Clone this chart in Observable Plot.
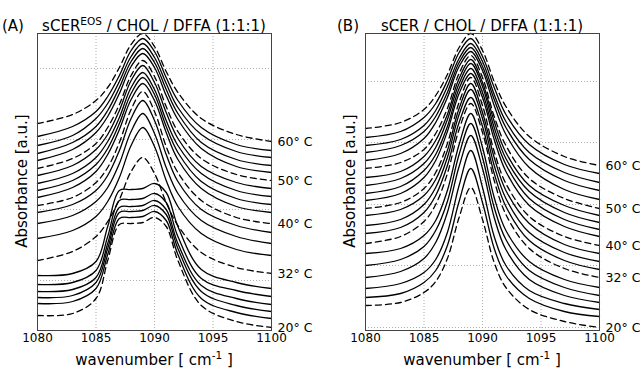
<!DOCTYPE html>
<html>
<head>
<meta charset="utf-8">
<script src="https://cdn.jsdelivr.net/npm/d3@7"></script>
<script src="https://cdn.jsdelivr.net/npm/@observablehq/plot@0.6"></script>
<style>
  html, body { margin: 0; padding: 0; background: #fff; }
  #row { display: flex; width: 640px; height: 369px; }
  svg { font-family: "DejaVu Sans", sans-serif; }
</style>
</head>
<body>
<div id="row"></div>
<script>
// wavenumber sample positions (cm^-1)
const wavenumbers = [1080, 1083, 1085, 1086, 1087, 1088, 1089, 1090, 1091, 1092, 1094, 1097, 1100];
const temperatures = [20, 22, 24, 26, 28, 30, 32, 34, 36, 38, 40, 42, 44, 46, 48, 50, 52, 54, 56, 58, 60];
const labelTemps = [20, 32, 40, 50, 60];
const xTicks = [1080, 1085, 1090, 1095, 1100];
const gridA = [50, 121, 191, 262];
const gridB = [3, 65, 126, 188, 249];

// Panel A: sCER^EOS / CHOL / DFFA (offset absorbance, a.u.)
const A20 = [15, 17, 32, 70, 106, 107, 108, 113, 104, 70, 25, 9, 3];
const A22 = [27, 29, 42, 76, 112, 113, 114, 119, 110, 76, 32, 18, 12];
const A24 = [33, 35, 48, 82, 118, 119, 120, 125, 116, 82, 39, 25, 19];
const A26 = [39, 41, 53, 87, 123, 124, 125, 130, 121, 87, 45, 32, 26];
const A28 = [46, 48, 60, 94, 130, 131, 132, 137, 128, 94, 52, 40, 34];
const A30 = [55, 57, 69, 104, 140, 141, 142, 147, 138, 104, 61, 48, 42];
const A32 = [70, 79, 94, 109, 131, 159, 173, 157, 128, 105, 78, 63, 57];
const A34 = [92, 100, 114, 129, 153, 185, 203, 184, 150, 124, 97, 81, 75];
const A36 = [107, 115, 129, 143, 167, 199, 217, 197, 163, 137, 110, 94, 87];
const A38 = [118, 126, 140, 155, 180, 212, 230, 210, 176, 149, 121, 105, 98];
const A40 = [125, 133, 148, 163, 188, 221, 239, 219, 184, 158, 130, 113, 107];
const A42 = [133, 143, 159, 176, 201, 231, 247, 230, 198, 171, 142, 124, 118];
const A44 = [140, 150, 166, 182, 207, 237, 253, 236, 204, 178, 149, 132, 126];
const A46 = [147, 157, 173, 189, 213, 243, 258, 241, 210, 185, 157, 140, 134];
const A48 = [155, 165, 181, 196, 220, 250, 265, 248, 218, 192, 164, 148, 142];
const A50 = [162, 172, 187, 203, 226, 255, 270, 254, 224, 199, 172, 156, 150];
const A52 = [170, 181, 198, 214, 237, 264, 277, 263, 235, 211, 182, 164, 158];
const A54 = [177, 188, 204, 220, 243, 269, 282, 268, 241, 217, 188, 171, 165];
const A56 = [185, 195, 212, 227, 249, 274, 287, 273, 247, 223, 196, 179, 173];
const A58 = [194, 204, 219, 234, 255, 280, 292, 279, 253, 230, 203, 186, 180];
const A60 = [207, 216, 230, 243, 263, 286, 297, 284, 259, 238, 212, 196, 189];

// Panel B: sCER / CHOL / DFFA (offset absorbance, a.u.)
const B20 = [25, 28, 38, 49, 72, 113, 143, 111, 68, 43, 21, 9, 3];
const B22 = [33, 37, 48, 60, 85, 129, 162, 128, 82, 55, 32, 19, 14];
const B24 = [42, 47, 58, 71, 98, 145, 180, 143, 94, 65, 40, 27, 21];
const B26 = [53, 59, 72, 88, 118, 164, 195, 162, 113, 81, 51, 35, 28];
const B28 = [65, 71, 84, 100, 129, 176, 207, 173, 123, 91, 60, 43, 35];
const B30 = [77, 82, 95, 110, 140, 186, 217, 183, 133, 100, 69, 51, 43];
const B32 = [87, 94, 109, 126, 157, 201, 227, 198, 150, 116, 82, 62, 53];
const B34 = [97, 103, 118, 135, 165, 208, 233, 204, 157, 124, 90, 70, 61];
const B36 = [105, 111, 126, 143, 173, 216, 241, 212, 165, 132, 98, 78, 69];
const B38 = [115, 121, 135, 151, 180, 222, 247, 218, 173, 140, 107, 86, 77];
const B40 = [122, 128, 142, 158, 187, 228, 253, 225, 179, 147, 114, 94, 85];
const B42 = [130, 137, 153, 170, 199, 237, 257, 233, 191, 159, 125, 104, 94];
const B44 = [137, 144, 160, 176, 204, 242, 262, 238, 197, 166, 132, 111, 101];
const B46 = [145, 152, 167, 183, 211, 247, 267, 244, 203, 172, 139, 118, 108];
const B48 = [153, 159, 174, 190, 216, 252, 271, 248, 209, 178, 145, 125, 115];
const B50 = [162, 168, 181, 197, 222, 257, 275, 253, 214, 185, 152, 132, 122];
const B52 = [170, 177, 192, 208, 233, 264, 279, 260, 225, 196, 163, 141, 131];
const B54 = [178, 185, 199, 214, 238, 268, 283, 264, 231, 203, 171, 150, 140];
const B56 = [185, 191, 205, 220, 244, 272, 287, 269, 236, 209, 178, 158, 148];
const B58 = [193, 199, 213, 227, 250, 278, 292, 274, 243, 216, 186, 166, 157];
const B60 = [202, 208, 221, 235, 256, 283, 297, 280, 249, 224, 194, 174, 165];

const seriesA = [A20, A22, A24, A26, A28, A30, A32, A34, A36, A38, A40, A42, A44, A46, A48, A50, A52, A54, A56, A58, A60];
const seriesB = [B20, B22, B24, B26, B28, B30, B32, B34, B36, B38, B40, B42, B44, B46, B48, B50, B52, B54, B56, B58, B60];

function rowsOf(series) {
  const rows = [];
  series.forEach((vals, k) => {
    const T = temperatures[k];
    vals.forEach((v, i) => rows.push({T, w: wavenumbers[i], v, dashed: labelTemps.includes(T)}));
  });
  return rows;
}

function panel(series, grid, ml, mr) {
  const rows = rowsOf(series);
  const labels = labelTemps.map(T => ({T, v: series[temperatures.indexOf(T)][wavenumbers.length - 1]}));
  return Plot.plot({
    width: 320, height: 369,
    marginTop: 33, marginBottom: 39, marginLeft: ml, marginRight: mr,
    style: {fontFamily: "DejaVu Sans, sans-serif", fontSize: "12px", color: "#000", background: "transparent", overflow: "visible"},
    x: {domain: [1080, 1100], ticks: xTicks, tickFormat: d => String(d), tickSize: 0, tickPadding: 3, label: null},
    y: {domain: [0, 297], axis: null},
    marks: [
      Plot.gridX(xTicks.slice(1, -1), {stroke: "#999", strokeOpacity: 1, strokeDasharray: "1,2", strokeWidth: 0.8}),
      Plot.gridY(grid, {stroke: "#999", strokeOpacity: 1, strokeDasharray: "1,2", strokeWidth: 0.8}),
      Plot.line(rows.filter(d => !d.dashed), {x: "w", y: "v", z: "T", curve: "catmull-rom", stroke: "#000", strokeWidth: 1.3}),
      Plot.line(rows.filter(d => d.dashed), {x: "w", y: "v", z: "T", curve: "catmull-rom", stroke: "#000", strokeWidth: 1.3, strokeDasharray: "6,4"}),
      Plot.frame({stroke: "#444", strokeWidth: 1}),
      Plot.text(labels, {x: () => 1100, y: "v", text: d => d.T + "° C", textAnchor: "start", dx: 6, fontSize: 12.5, fill: "#000"})
    ]
  });
}

const row = document.getElementById("row");

function addTexts(svg, opts) {
  const s = d3.select(svg);
  s.append("text").attr("x", opts.tagX).attr("y", 31).attr("text-anchor", "start").attr("font-size", 15).text(opts.tag);
  const t = s.append("text").attr("x", opts.cx).attr("y", 31).attr("text-anchor", "middle").attr("font-size", 15);
  t.append("tspan").text(opts.titleMain);
  if (opts.titleSup) {
    t.append("tspan").attr("font-size", 10.5).attr("dy", -6).text(opts.titleSup);
    t.append("tspan").attr("dy", 6).text(opts.titleRest);
  } else {
    t.append("tspan").text(opts.titleRest);
  }
  s.append("text").attr("transform", `translate(${opts.ylx},181) rotate(-90)`).attr("text-anchor", "middle").attr("font-size", 15).text("Absorbance [a.u.]");
  const xl = s.append("text").attr("x", opts.cx).attr("y", 365).attr("text-anchor", "middle").attr("font-size", 15);
  xl.append("tspan").text("wavenumber [ cm");
  xl.append("tspan").attr("font-size", 10.5).attr("dy", -6).text("-1");
  xl.append("tspan").attr("dy", 6).text(" ]");
}

const svgA = panel(seriesA, gridA, 37, 49);
row.appendChild(svgA);
addTexts(svgA, {tag: "(A)", tagX: 2, cx: 154, titleMain: "sCER", titleSup: "EOS", titleRest: " / CHOL / DFFA (1:1:1)", ylx: 27});

const svgB = panel(seriesB, gridB, 45, 41);
row.appendChild(svgB);
addTexts(svgB, {tag: "(B)", tagX: 17, cx: 162, titleMain: "sCER", titleSup: null, titleRest: " / CHOL / DFFA (1:1:1)", ylx: 35});
</script>
</body>
</html>
